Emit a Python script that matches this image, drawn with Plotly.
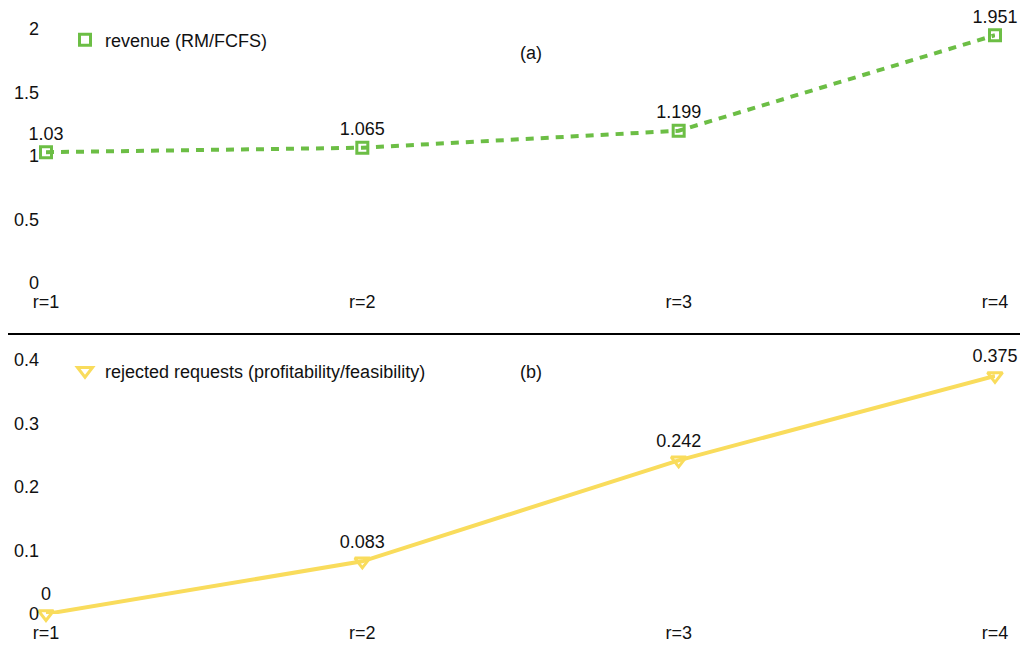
import plotly.graph_objects as go

categories = ["r=1", "r=2", "r=3", "r=4"]
revenue = [1.03, 1.065, 1.199, 1.951]
rejected = [0, 0.083, 0.242, 0.375]
revenue_labels = ["1.03", "1.065", "1.199", "1.951"]
rejected_labels = ["0", "0.083", "0.242", "0.375"]
top_ticks = [0, 0.5, 1, 1.5, 2]
top_ticktext = ["0", "0.5", "1", "1.5", "2"]
bot_ticks = [0, 0.1, 0.2, 0.3, 0.4]
bot_ticktext = ["0", "0.1", "0.2", "0.3", "0.4"]

GREEN = "#6CBE45"
YELLOW = "#F9DC5C"
FONT = "Liberation Sans, Arial, sans-serif"
FS = 18
W, H = 1023, 646
ML, MR = 46, 28

def py(pix):
    return (H - pix) / H

def px(pix):
    return (pix - ML) / (W - ML - MR)

rev_marker = dict(symbol="square-open", size=11, color=GREEN, line=dict(width=3, color=GREEN))
rej_marker = dict(symbol="triangle-down-open", size=13, color=YELLOW, line=dict(width=3, color=YELLOW))

fig = go.Figure()
fig.add_trace(go.Scatter(
    x=categories, y=revenue, mode="lines+markers+text",
    name="revenue (RM/FCFS)", text=revenue_labels, textposition="top center",
    textfont=dict(size=FS, color="#111", family=FONT),
    line=dict(color=GREEN, width=4, dash="8px,7px", shape="linear"),
    marker=rev_marker, showlegend=False,
    cliponaxis=False, xaxis="x", yaxis="y",
))
fig.add_trace(go.Scatter(
    x=[None], y=[None], mode="markers", name="revenue (RM/FCFS)",
    marker=rev_marker, xaxis="x", yaxis="y", legend="legend",
))
fig.add_trace(go.Scatter(
    x=categories, y=rejected, mode="lines+markers+text",
    name="rejected requests (profitability/feasibility)", text=rejected_labels,
    textposition="top center",
    textfont=dict(size=FS, color="#111", family=FONT),
    line=dict(color=YELLOW, width=4, shape="linear"),
    marker=rej_marker, showlegend=False,
    cliponaxis=False, xaxis="x2", yaxis="y2",
))
fig.add_trace(go.Scatter(
    x=[None], y=[None], mode="markers", name="rejected requests (profitability/feasibility)",
    marker=rej_marker, xaxis="x2", yaxis="y2", legend="legend2",
))

axis_common = dict(showgrid=False, zeroline=False, showline=False, ticks="", automargin=False,
                   tickfont=dict(size=FS, color="#111", family=FONT))

fig.update_layout(
    width=W, height=H,
    margin=dict(l=ML, r=MR, t=0, b=0, autoexpand=False),
    paper_bgcolor="white", plot_bgcolor="white",
    font=dict(family=FONT, size=FS, color="#111"),
    xaxis=dict(domain=[0, 1], anchor="y", type="category", range=[0, 3],
               ticklabelstandoff=6, **axis_common),
    yaxis=dict(domain=[py(283), py(29)], anchor="x", range=[0, 2],
               tickvals=top_ticks, ticktext=top_ticktext, ticklabelstandoff=6, **axis_common),
    xaxis2=dict(domain=[0, 1], anchor="y2", type="category", range=[0, 3],
                ticklabelstandoff=6, **axis_common),
    yaxis2=dict(domain=[py(614), py(360)], anchor="x2", range=[0, 0.4],
                tickvals=bot_ticks, ticktext=bot_ticktext, ticklabelstandoff=6, **axis_common),
    legend=dict(x=px(65), y=py(40), xanchor="left", yanchor="middle", itemwidth=30,
                bgcolor="rgba(0,0,0,0)", font=dict(size=FS, family=FONT, color="#111")),
    legend2=dict(x=px(65), y=py(371), xanchor="left", yanchor="middle", itemwidth=30,
                 bgcolor="rgba(0,0,0,0)", font=dict(size=FS, family=FONT, color="#111")),
    showlegend=True,
    annotations=[
        dict(text="(a)", x=px(531), y=py(41), xref="paper", yref="paper",
             showarrow=False, font=dict(size=FS, family=FONT, color="#111")),
        dict(text="(b)", x=px(531), y=py(372), xref="paper", yref="paper",
             showarrow=False, font=dict(size=FS, family=FONT, color="#111")),
    ],
    shapes=[dict(type="line", xref="paper", yref="paper", x0=px(8), x1=px(1020),
                 y0=py(334), y1=py(334), line=dict(color="black", width=2))],
)

fig.write_html("out.html", config={"displayModeBar": False},
               post_script="document.body.style.margin='0';document.body.style.overflow='hidden';")
